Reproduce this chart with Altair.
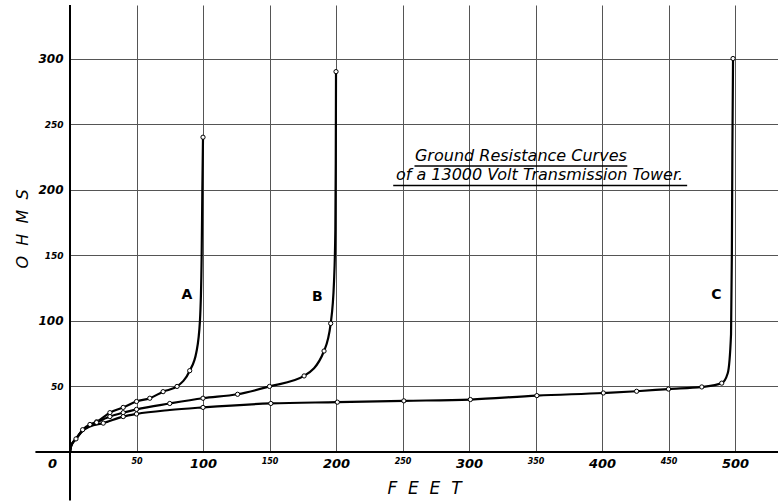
import altair as alt
import pandas as pd

# ---- data ----
a_x = [0, 1, 4.5, 9.5, 15, 20, 30, 40, 50, 60, 70, 80.5, 90, 95, 97.7, 99, 99.5, 100]
a_y = [0, 5, 10, 17, 21, 23, 30, 34, 38.5, 41, 46, 50, 62, 76, 100, 150, 200, 240]
a_m = [0, 0, 1, 1, 1, 1, 1, 1, 1, 1, 1, 1, 1, 0, 0, 0, 0, 1]

b_x = [0, 1, 4.5, 9.5, 15, 20, 30, 40, 50, 75, 100, 126, 150, 176, 191, 196, 198.5, 199.5, 199.8, 200]
b_y = [0, 5, 10, 16.5, 20, 22.5, 27, 30, 32.5, 37, 41, 44, 50, 58, 77, 98, 130, 170, 220, 290]
b_m = [0, 0, 0, 0, 0, 1, 1, 1, 1, 1, 1, 1, 1, 1, 1, 1, 0, 0, 0, 1]

c_x = [0, 1, 4.5, 9.5, 15, 25, 40, 50, 75, 100, 151, 201, 251, 301, 351, 401, 426, 450, 475, 490, 494.5, 497, 497.6, 498, 498.5]
c_y = [0, 5, 10, 16, 19.5, 22, 27, 29, 32, 34, 37, 38, 39, 40, 43, 45, 46.3, 48, 49.6, 52.5, 60, 90, 150, 230, 300]
c_m = [0, 0, 0, 0, 0, 1, 1, 1, 0, 1, 1, 1, 1, 1, 1, 1, 1, 1, 1, 1, 0, 0, 0, 0, 1]

x_ticks = [0, 50, 100, 150, 200, 250, 300, 350, 400, 450, 500]
y_ticks = [50, 100, 150, 200, 250, 300]

curve_names = ["A", "B", "C"]
label_x = [88, 186, 486]
label_y = [120, 118, 120]

title_lines = ["Ground Resistance Curves", "of a 13000 Volt Transmission Tower."]
title_x = [339, 353]
title_y = [219.5, 205]
underline_x1 = [259, 243]
underline_x2 = [419, 464]
underline_y = [218, 203.2]

x_domain = [0, 532.3]
y_domain = [0, 340.8]
x_axis_ext = [-26, 532.3]
y_axis_ext = [-37, 340.8]

FONT = "DejaVu Sans"

frames = []
for name, xv, yv, mv in [("A", a_x, a_y, a_m), ("B", b_x, b_y, b_m), ("C", c_x, c_y, c_m)]:
    frames.append(pd.DataFrame({"curve": name, "feet": xv, "ohms": yv,
                                "marked": mv, "order": range(len(xv))}))
df = pd.concat(frames, ignore_index=True)

xs = alt.Scale(domain=x_domain, nice=False, zero=False)
ys = alt.Scale(domain=y_domain, nice=False, zero=False)

x_axis = alt.Axis(
    values=x_ticks, title="F\u00a0\u00a0E\u00a0\u00a0E\u00a0\u00a0T",
    grid=True, gridColor="#555", gridWidth=1, domain=False, ticks=False,
    labelFont=FONT, labelFontStyle="italic", labelFontWeight="bold", labelColor="black",
    labelFontSize={"condition": {"test": "datum.value % 100 === 0", "value": 13}, "value": 8},
    labelOffset={"condition": {"test": "datum.value === 0", "value": -18}, "value": 0},
    labelFlush=False, labelOverlap=False, labelPadding=5,
    titleFont=FONT, titleFontStyle="italic", titleFontWeight="normal", titleFontSize=17,
    titleColor="black", titlePadding=10,
)
y_axis = alt.Axis(
    values=y_ticks, title="O\u00a0\u00a0H\u00a0\u00a0M\u00a0\u00a0S",
    grid=True, gridColor="#555", gridWidth=1, domain=False, ticks=False,
    labelFont=FONT, labelFontStyle="italic", labelFontWeight="bold", labelColor="black",
    labelFontSize={"condition": {"test": "datum.value % 100 === 0", "value": 12}, "value": 9},
    labelFlush=False, labelOverlap=False, labelPadding=7,
    titleFont=FONT, titleFontStyle="italic", titleFontWeight="normal", titleFontSize=16,
    titleColor="black", titlePadding=7,
)

base = alt.Chart(df)

lines = base.mark_line(color="black", strokeWidth=2.2, interpolate="monotone").encode(
    x=alt.X("feet:Q", scale=xs, axis=x_axis),
    y=alt.Y("ohms:Q", scale=ys, axis=y_axis),
    detail="curve:N",
    order="order:Q",
)
points = base.transform_filter("datum.marked == 1").mark_point(
    shape="circle", size=18, filled=True, fill="white", stroke="black", strokeWidth=1, opacity=1
).encode(x=alt.X("feet:Q", scale=xs), y=alt.Y("ohms:Q", scale=ys))

axes_df = pd.DataFrame({"x1": [x_axis_ext[0], 0], "x2": [x_axis_ext[1], 0],
                        "y1": [0, y_axis_ext[0]], "y2": [0, y_axis_ext[1]]})
axis_lines = alt.Chart(axes_df).mark_rule(color="black", strokeWidth=2).encode(
    x=alt.X("x1:Q", scale=xs), x2="x2:Q", y=alt.Y("y1:Q", scale=ys), y2="y2:Q")

lab_df = pd.DataFrame({"name": curve_names, "x": label_x, "y": label_y})
labels = alt.Chart(lab_df).mark_text(font=FONT, fontSize=14, fontWeight="bold", color="black").encode(
    x=alt.X("x:Q", scale=xs), y=alt.Y("y:Q", scale=ys), text="name:N")

t_df = pd.DataFrame({"t": title_lines, "x": title_x, "y": title_y,
                     "u1": underline_x1, "u2": underline_x2, "uy": underline_y})
title_text = alt.Chart(t_df).mark_text(font=FONT, fontSize=16, fontStyle="italic",
                                       baseline="bottom", color="black").encode(
    x=alt.X("x:Q", scale=xs), y=alt.Y("y:Q", scale=ys), text="t:N")
underlines = alt.Chart(t_df).mark_rule(color="black", strokeWidth=1.5).encode(
    x=alt.X("u1:Q", scale=xs), x2="u2:Q", y=alt.Y("uy:Q", scale=ys))

chart = alt.layer(lines, points, axis_lines, labels, title_text, underlines).properties(
    width=708, height=447,
    autosize=alt.AutoSizeParams(type="none"),
    padding={"left": 70, "top": 5, "right": 0, "bottom": 50},
    background="white",
).configure_view(stroke=None)

chart.save("out.html", embed_options={"renderer": "svg", "actions": False})
